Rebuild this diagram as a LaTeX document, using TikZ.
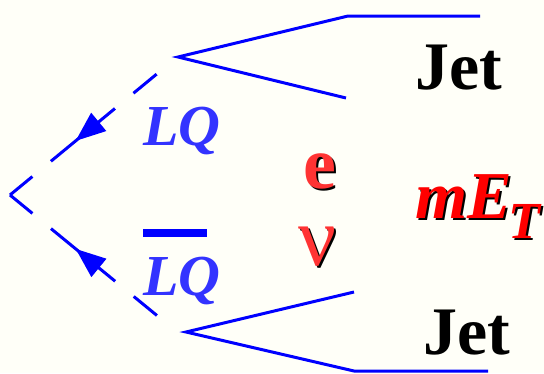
\documentclass[tikz,border=0pt]{standalone}
\usepackage{fontspec}
\setmainfont{Liberation Serif}
\usetikzlibrary{
  arrows.meta,
  decorations.markings
}
\definecolor{lqblue}{RGB}{0,0,255}
\definecolor{lqtext}{RGB}{51,51,255}
\definecolor{lepred}{RGB}{255,51,51}
\definecolor{metred}{RGB}{255,0,0}
\definecolor{paper}{RGB}{255,255,248}
\newcommand{\fsz}[1]{\fontsize{#1}{#1}\selectfont}
% red labels carry a black drop shadow
\newcommand{\shadowed}[5]{%
  \node[#4, text=black] at (#2+2.5,#3+2.5) {#5};
  \node[#4] (#1) at (#2,#3) {#5};
}

\begin{document}
\begin{tikzpicture}[
  x=1pt, y=-1pt,
  line/.style={draw=lqblue, line width=3pt},
  lqline/.style={line, dash pattern=on 29pt off 24pt on 83pt off 24pt on 30pt,
    postaction={decorate, decoration={markings,
      mark=at position 85pt with {\arrowreversed[lqblue]{Triangle[length=30pt,width=23pt]}}}}},
  txt/.style={inner sep=0pt, anchor=base west},
  jetlbl/.style={txt, font=\bfseries\fsz{68}, text=black},
  lqlbl/.style={txt, font=\bfseries\itshape\fsz{58}, text=lqtext},
  leplbl/.style={txt, font=\bfseries\fsz{74}, text=lepred},
  nulbl/.style={txt, font=\fsz{84}, text=lepred},
  metlbl/.style={txt, font=\bfseries\itshape\fsz{67}, text=metred}
]
  \useasboundingbox (0,0) rectangle (544,373);
  \fill[paper] (0,0) rectangle (544,373);

  % vertices
  \coordinate (v) at (10,195);
  \coordinate (lqend1) at (158,73);
  \coordinate (lqend2) at (160,318);
  \coordinate (jv1) at (178,57);
  \coordinate (jv2) at (186,332);
  \coordinate (j1a) at (348,16);
  \coordinate (j1b) at (480,16);
  \coordinate (j1c) at (346,98);
  \coordinate (j2a) at (354,292);
  \coordinate (j2b) at (354,371);
  \coordinate (j2c) at (488,371);

  % leptoquark lines
  \draw[lqline] (v) -- (lqend1);
  \draw[lqline] (v) -- (lqend2);

  % jets
  \draw[line] (j1b) -- (j1a) -- (jv1) -- (j1c);
  \draw[line] (j2a) -- (jv2) -- (j2b) -- (j2c);

  % labels
  \node[jetlbl] (jet1) at (415,89) {Jet};
  \node[jetlbl] (jet2) at (423,354) {Jet};
  \node[lqlbl] (lq1) at (143,145) {LQ};
  \node[lqlbl] (lq2) at (143,295) {LQ};
  \draw[lqblue, line width=8pt] (143,233) -- (207,233);
  \shadowed{el}{303}{188}{leplbl}{e}
  \shadowed{nu}{298}{265}{nulbl}{ν}
  \shadowed{met}{415}{218}{metlbl}{mE\kern-4pt\raisebox{-20pt}{\fsz{52}T}}
\end{tikzpicture}
\end{document}
